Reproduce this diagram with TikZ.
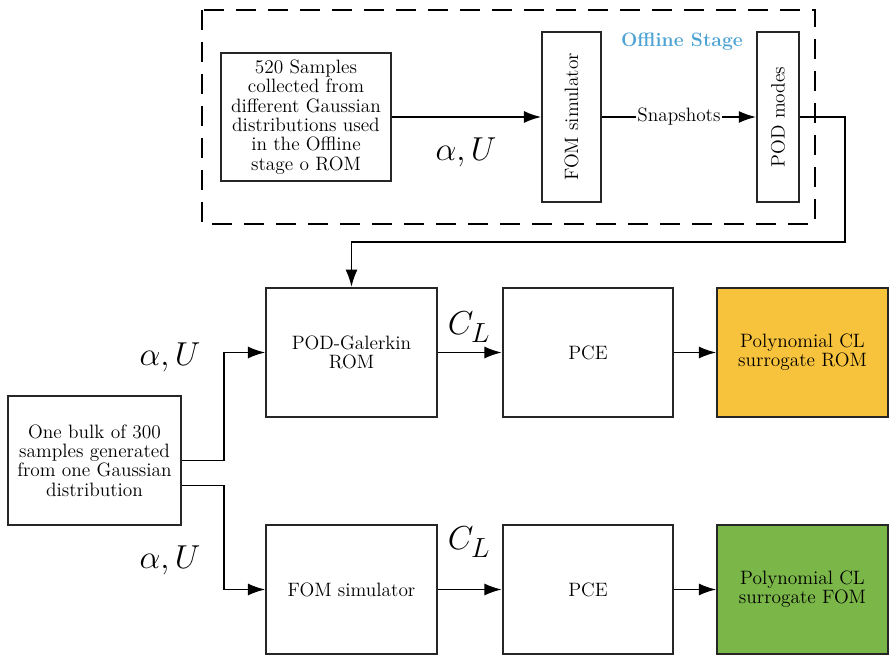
\documentclass[tikz,border=0pt]{standalone}
\usetikzlibrary{arrows.meta}

\definecolor{offblue}{RGB}{77,163,212}
\definecolor{romorange}{RGB}{248,195,60}
\definecolor{fomgreen}{RGB}{122,182,72}

\tikzset{
  blok/.style={draw=black!85, line width=1.3pt, minimum width=128pt, minimum height=97pt, align=center, inner sep=2pt},
  pil/.style={line width=1.4pt, -{Latex[length=13pt,width=9pt]}},
  var/.style={font=\Huge}
}

\begin{document}
\begin{tikzpicture}[x=0.75pt,y=-0.75pt,font=\fontsize{14.5}{14.5}\selectfont]
\useasboundingbox (0,0) rectangle (889,655);

% Offline stage
\draw[dash pattern=on 15pt off 9pt, line width=1.4pt] (202,10) rectangle (815,224);
\node[text=offblue, font=\fontsize{14.5}{14.5}\selectfont\bfseries] (stage) at (682,42) {Offline Stage};

\node[blok, minimum width=127pt, minimum height=96pt] (smp) at (306,117) {520 Samples\\collected from\\different Gaussian\\distributions used\\in the Offline\\stage o ROM};
\node[blok, rotate=90, minimum width=127.5pt, minimum height=44pt] (fom1) at (571.5,117) {FOM simulator};
\node[blok, rotate=90, minimum width=127pt, minimum height=31.5pt] (pod) at (778,117) {POD modes};

\node[var] (au1) at (466,152) {$\alpha,U$};

\draw[pil] (smp) -- (fom1);
\draw[pil] (fom1) -- node[fill=white, inner sep=1pt] (snap) {Snapshots} (pod);

% Online stage
\node[blok] (podg) at (351.5,352.5) {POD-Galerkin\\ROM};
\node[blok] (pce1) at (588,352.5) {PCE};
\node[blok, minimum width=128pt, fill=romorange] (srom) at (802.5,352.5) {Polynomial CL\\surrogate ROM};

\node[blok, minimum width=130pt] (bulk) at (94.5,460.5) {One bulk of 300\\samples generated\\from one Gaussian\\distribution};

\node[blok] (fomsim) at (351.5,589.5) {FOM simulator};
\node[blok] (pce2) at (588,589.5) {PCE};
\node[blok, minimum width=128pt, fill=fomgreen] (sfom) at (802.5,589.5) {Polynomial CL\\surrogate FOM};

% Labels
\node[var] (au2) at (170,357) {$\alpha,U$};
\node[var] (au3) at (170,560) {$\alpha,U$};
\node[var] (cl1) at (469,327) {$C_L$};
\node[var] (cl2) at (469,542) {$C_L$};

% Connectors
\coordinate (bend) at (845,242);
\draw[pil] (pod.south) -| (bend) -| (podg.north);
\draw[pil] (bulk.east) -- ++(42,0) |- (podg.west);
\draw[pil] ([yshift=-18.75pt]bulk.east) -- ++(42,0) |- (fomsim.west);
\draw[pil] (podg) -- (pce1);
\draw[pil] (pce1) -- (srom);
\draw[pil] (fomsim) -- (pce2);
\draw[pil] (pce2) -- (sfom);

\end{tikzpicture}
\end{document}
